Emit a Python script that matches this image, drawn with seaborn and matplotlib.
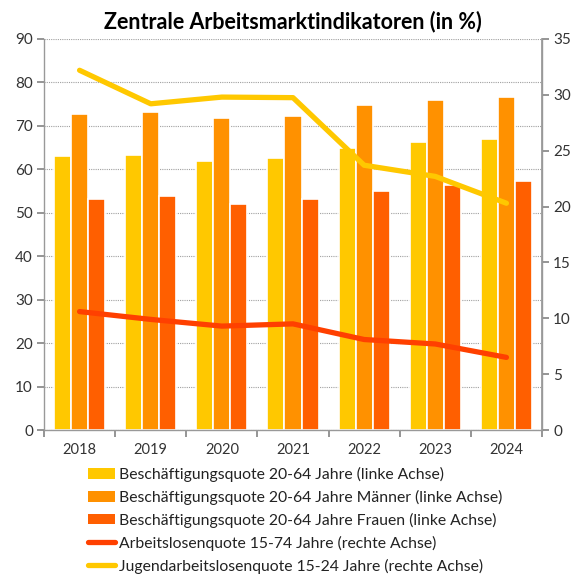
import matplotlib
matplotlib.use("Agg")
import matplotlib.pyplot as plt
import seaborn as sns
import pandas as pd
from matplotlib.lines import Line2D
from matplotlib.patches import Patch

years = ["2018", "2019", "2020", "2021", "2022", "2023", "2024"]
quote_gesamt = [63.0, 63.3, 61.9, 62.6, 64.8, 66.3, 67.0]
quote_maenner = [72.8, 73.2, 71.8, 72.3, 74.7, 76.0, 76.7]
quote_frauen = [53.1, 53.8, 52.0, 53.1, 54.9, 56.4, 57.3]
arbeitslosenquote = [10.6, 9.9, 9.3, 9.5, 8.1, 7.7, 6.5]
jugend_alq = [32.2, 29.2, 29.8, 29.75, 23.7, 22.7, 20.3]

bar_labels = [
    "Beschäftigungsquote 20-64 Jahre (linke Achse)",
    "Beschäftigungsquote 20-64 Jahre Männer (linke Achse)",
    "Beschäftigungsquote 20-64 Jahre Frauen (linke Achse)",
]
line_labels = [
    "Arbeitslosenquote 15-74 Jahre (rechte Achse)",
    "Jugendarbeitslosenquote 15-24 Jahre (rechte Achse)",
]
bar_colors = ["#FFC800", "#FF9100", "#FF5F00"]
line_colors = ["#FF4000", "#FFC800"]

sns.set_theme(style="white")
plt.rcParams["font.family"] = ["Lato", "DejaVu Sans"]

df = pd.DataFrame({
    "Jahr": years * 3,
    "Wert": quote_gesamt + quote_maenner + quote_frauen,
    "Reihe": [bar_labels[0]] * 7 + [bar_labels[1]] * 7 + [bar_labels[2]] * 7,
})

fig = plt.figure(figsize=(5.78, 5.75), dpi=100)
ax = fig.add_axes([44 / 578, 1 - 430 / 575, 498 / 578, 391 / 575])

sns.barplot(data=df, x="Jahr", y="Wert", hue="Reihe", palette=bar_colors,
            saturation=1, width=0.72, edgecolor="white", linewidth=1.2, ax=ax,
            legend=False, zorder=2)

ax.set_ylim(0, 90)
ax.set_xlim(-0.5, 6.5)
ax.set_yticks(range(0, 91, 10))
ax.set_xlabel("")
ax.set_ylabel("")
ax.grid(axis="y", color="#A0A0A0", linestyle=(0, (1, 1)), linewidth=0.8, zorder=0)
ax.set_axisbelow(True)

# category boundaries carry the tick marks, labels sit at centers
ax.set_xticks([i - 0.5 for i in range(8)], minor=False)
ax.set_xticklabels([])
ax.set_xticks(range(7), minor=True)
ax.set_xticklabels(years, minor=True)
ax.tick_params(axis="x", which="major", length=5, color="#888888", direction="out",
               bottom=True)
ax.tick_params(axis="x", which="minor", length=0, labelsize=10.5, pad=9,
               labelcolor="#333333")
ax.tick_params(axis="y", length=5, color="#888888", direction="out", left=True,
               labelsize=11, labelcolor="#333333", pad=3)

ax.spines["top"].set_visible(False)
for side in ["left", "bottom", "right"]:
    ax.spines[side].set_color("#999999")
    ax.spines[side].set_linewidth(1.0)

ax2 = ax.twinx()
x_pos = list(range(7))
sns.lineplot(x=x_pos, y=arbeitslosenquote, color=line_colors[0], linewidth=3.8,
             ax=ax2, zorder=5)
sns.lineplot(x=x_pos, y=jugend_alq, color=line_colors[1], linewidth=3.8,
             ax=ax2, zorder=5)
ax2.set_ylim(0, 35)
ax2.set_yticks(range(0, 36, 5))
ax2.set_xlim(-0.5, 6.5)
ax2.grid(False)
ax2.tick_params(axis="y", length=5, color="#888888", direction="out", right=True,
                labelsize=11, labelcolor="#333333", pad=3)
for side in ["top", "left", "bottom"]:
    ax2.spines[side].set_visible(False)
ax2.spines["right"].set_color("#999999")

fig.text(0.507, 1 - 22 / 575, "Zentrale Arbeitsmarktindikatoren (in %)",
         ha="center", va="center", fontsize=15.5, fontweight="bold", color="black")

handles = [Patch(facecolor=c, edgecolor="none") for c in bar_colors] + \
          [Line2D([0], [0], color=c, linewidth=3.8, solid_capstyle="round")
           for c in line_colors]
fig.legend(handles, bar_labels + line_labels, loc="upper left",
           bbox_to_anchor=(80 / 578, 1 - 459 / 575), frameon=False,
           fontsize=11.3, handlelength=1.75, handleheight=0.65, handletextpad=0.25,
           labelspacing=0.5, borderpad=0, labelcolor="#222222")

fig.savefig("out.png", dpi=100)
